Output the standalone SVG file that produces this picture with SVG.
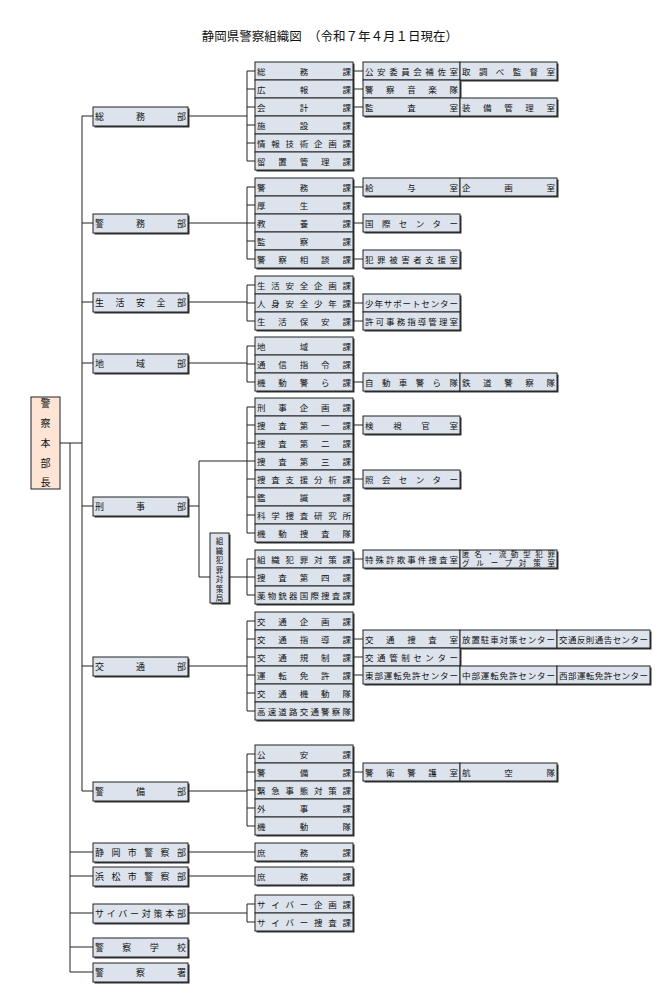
<svg xmlns="http://www.w3.org/2000/svg" width="664" height="1000" viewBox="0 0 664 1000">
<style>
.s{fill:#333}
.b{fill:#dde3ec;stroke:#222;stroke-width:1}
.t{font-family:"Noto Sans CJK JP","Liberation Sans",sans-serif;font-size:8.5px;fill:#111}
.d{font-family:"Noto Sans CJK JP","Liberation Sans",sans-serif;font-size:9px;fill:#111}
.v{font-family:"Noto Sans CJK JP","Liberation Sans",sans-serif;font-size:7.5px;fill:#111}
.c{fill:none;stroke:#222;stroke-width:1}
</style>
<rect width="664" height="1000" fill="#fff"/>
<text x="330" y="41" text-anchor="middle" font-family="Noto Sans CJK JP,sans-serif" font-size="12.5" fill="#111">静岡県警察組織図　（令和７年４月１日現在）</text>

<g id="connectors">
<path class="c" d="M60 443H82M82 116V791M70 443V972"/>
<path class="c" d="M82 116H93M82 223H93M82 302H93M82 363H93M82 506H93M82 666H93M82 791H93M70 852H93M70 876H93M70 913H93M70 947H93M70 972H93"/>
<path class="c" d="M188 116H247M247 71V161M247 71H255M247 89H255M247 107H255M247 125H255M247 143H255M247 161H255M353 71H363M353 89H363M353 107H363"/>
<path class="c" d="M188 223H247M247 187V259M247 187H255M247 205H255M247 223H255M247 241H255M247 259H255M353 187H363M353 223H363M353 259H363"/>
<path class="c" d="M188 302H247M247 285V321M247 285H255M247 303H255M247 321H255M353 303H363M353 321H363"/>
<path class="c" d="M188 363H247M247 346V382M247 346H255M247 364H255M247 382H255M353 382H363"/>
<path class="c" d="M188 506H199M199 461V577M199 461H247M247 407V533M247 407H255M247 425H255M247 443H255M247 461H255M247 479H255M247 497H255M247 515H255M247 533H255M353 425H363M353 479H363M199 577H210M229 577H247M247 559V595M247 559H255M247 577H255M247 595H255M353 559H363"/>
<path class="c" d="M188 666H247M247 621V711M247 621H255M247 639H255M247 657H255M247 675H255M247 693H255M247 711H255M353 639H363M353 657H363M353 675H363"/>
<path class="c" d="M188 791H247M247 754V826M247 754H255M247 772H255M247 790H255M247 808H255M247 826H255M353 772H363"/>
<path class="c" d="M188 852H255M188 876H255M188 913H247M247 904V922M247 904H255M247 922H255"/>
</g>

<g id="honbucho">
<rect x="31" y="397" width="29" height="92" fill="#fde4d4" stroke="#222"/>
<g font-family="Noto Sans CJK JP,sans-serif" font-size="10" text-anchor="middle" fill="#111">
<text x="45.5" y="407">警</text><text x="45.5" y="427">察</text><text x="45.5" y="447">本</text><text x="45.5" y="467">部</text><text x="45.5" y="486">長</text>
</g>
</g>

<g id="kyoku">
<rect x="211.5" y="534.5" width="19" height="70" class="s"/>
<rect x="210" y="533" width="19" height="70" class="b"/>
<g class="v" text-anchor="middle">
<text x="219.5" y="544">組</text><text x="219.5" y="553.5">織</text><text x="219.5" y="563">犯</text><text x="219.5" y="572.5">罪</text><text x="219.5" y="582">対</text><text x="219.5" y="591.5">策</text><text x="219.5" y="601">局</text>
</g>
</g>

<g id="depts">
<g id="d1"><rect x="94.5" y="108.5" width="95" height="19" class="s"/><rect x="93" y="107" width="95" height="19" class="b"/><text class="d" x="95" y="120" textLength="91" lengthAdjust="spacing">総務部</text></g>
<g id="d2"><rect x="94.5" y="215.5" width="95" height="19" class="s"/><rect x="93" y="214" width="95" height="19" class="b"/><text class="d" x="95" y="227" textLength="91" lengthAdjust="spacing">警務部</text></g>
<g id="d3"><rect x="94.5" y="294.5" width="95" height="19" class="s"/><rect x="93" y="293" width="95" height="19" class="b"/><text class="d" x="95" y="306" textLength="91" lengthAdjust="spacing">生活安全部</text></g>
<g id="d4"><rect x="94.5" y="355.5" width="95" height="19" class="s"/><rect x="93" y="354" width="95" height="19" class="b"/><text class="d" x="95" y="367" textLength="91" lengthAdjust="spacing">地域部</text></g>
<g id="d5"><rect x="94.5" y="498.5" width="95" height="19" class="s"/><rect x="93" y="497" width="95" height="19" class="b"/><text class="d" x="95" y="510" textLength="91" lengthAdjust="spacing">刑事部</text></g>
<g id="d6"><rect x="94.5" y="658.5" width="95" height="19" class="s"/><rect x="93" y="657" width="95" height="19" class="b"/><text class="d" x="95" y="670" textLength="91" lengthAdjust="spacing">交通部</text></g>
<g id="d7"><rect x="94.5" y="783.5" width="95" height="19" class="s"/><rect x="93" y="782" width="95" height="19" class="b"/><text class="d" x="95" y="795" textLength="91" lengthAdjust="spacing">警備部</text></g>
<g id="d8"><rect x="94.5" y="844.5" width="95" height="19" class="s"/><rect x="93" y="843" width="95" height="19" class="b"/><text class="d" x="95" y="856" textLength="91" lengthAdjust="spacing">静岡市警察部</text></g>
<g id="d9"><rect x="94.5" y="868.5" width="95" height="19" class="s"/><rect x="93" y="867" width="95" height="19" class="b"/><text class="d" x="95" y="880" textLength="91" lengthAdjust="spacing">浜松市警察部</text></g>
<g id="d10"><rect x="94.5" y="905.5" width="95" height="19" class="s"/><rect x="93" y="904" width="95" height="19" class="b"/><text class="d" x="95" y="917" textLength="91" lengthAdjust="spacing">サイバー対策本部</text></g>
<g id="d11"><rect x="94.5" y="939.5" width="95" height="19" class="s"/><rect x="93" y="938" width="95" height="19" class="b"/><text class="d" x="95" y="951" textLength="91" lengthAdjust="spacing">警察学校</text></g>
<g id="d12"><rect x="94.5" y="964.5" width="95" height="19" class="s"/><rect x="93" y="963" width="95" height="19" class="b"/><text class="d" x="95" y="976" textLength="91" lengthAdjust="spacing">警察署</text></g>
</g>

<g id="shadows2">
<rect x="256.5" y="63.5" width="98" height="108" class="s"/>
<rect x="256.5" y="179.5" width="98" height="90" class="s"/>
<rect x="256.5" y="277.5" width="98" height="54" class="s"/>
<rect x="256.5" y="338.5" width="98" height="54" class="s"/>
<rect x="256.5" y="399.5" width="98" height="144" class="s"/>
<rect x="256.5" y="551.5" width="98" height="54" class="s"/>
<rect x="256.5" y="613.5" width="98" height="108" class="s"/>
<rect x="256.5" y="746.5" width="98" height="90" class="s"/>
<rect x="256.5" y="844.5" width="98" height="18" class="s"/>
<rect x="256.5" y="868.5" width="98" height="18" class="s"/>
<rect x="256.5" y="896.5" width="98" height="36" class="s"/>
</g>

<g id="ka">
<g id="k1"><rect x="255" y="62" width="98" height="18" class="b"/><text class="t" x="257" y="74.5" textLength="94" lengthAdjust="spacing">総務課</text></g>
<g id="k2"><rect x="255" y="80" width="98" height="18" class="b"/><text class="t" x="257" y="92.5" textLength="94" lengthAdjust="spacing">広報課</text></g>
<g id="k3"><rect x="255" y="98" width="98" height="18" class="b"/><text class="t" x="257" y="110.5" textLength="94" lengthAdjust="spacing">会計課</text></g>
<g id="k4"><rect x="255" y="116" width="98" height="18" class="b"/><text class="t" x="257" y="128.5" textLength="94" lengthAdjust="spacing">施設課</text></g>
<g id="k5"><rect x="255" y="134" width="98" height="18" class="b"/><text class="t" x="257" y="146.5" textLength="94" lengthAdjust="spacing">情報技術企画課</text></g>
<g id="k6"><rect x="255" y="152" width="98" height="18" class="b"/><text class="t" x="257" y="164.5" textLength="94" lengthAdjust="spacing">留置管理課</text></g>
<g id="k7"><rect x="255" y="178" width="98" height="18" class="b"/><text class="t" x="257" y="190.5" textLength="94" lengthAdjust="spacing">警務課</text></g>
<g id="k8"><rect x="255" y="196" width="98" height="18" class="b"/><text class="t" x="257" y="208.5" textLength="94" lengthAdjust="spacing">厚生課</text></g>
<g id="k9"><rect x="255" y="214" width="98" height="18" class="b"/><text class="t" x="257" y="226.5" textLength="94" lengthAdjust="spacing">教養課</text></g>
<g id="k10"><rect x="255" y="232" width="98" height="18" class="b"/><text class="t" x="257" y="244.5" textLength="94" lengthAdjust="spacing">監察課</text></g>
<g id="k11"><rect x="255" y="250" width="98" height="18" class="b"/><text class="t" x="257" y="262.5" textLength="94" lengthAdjust="spacing">警察相談課</text></g>
<g id="k12"><rect x="255" y="276" width="98" height="18" class="b"/><text class="t" x="257" y="288.5" textLength="94" lengthAdjust="spacing">生活安全企画課</text></g>
<g id="k13"><rect x="255" y="294" width="98" height="18" class="b"/><text class="t" x="257" y="306.5" textLength="94" lengthAdjust="spacing">人身安全少年課</text></g>
<g id="k14"><rect x="255" y="312" width="98" height="18" class="b"/><text class="t" x="257" y="324.5" textLength="94" lengthAdjust="spacing">生活保安課</text></g>
<g id="k15"><rect x="255" y="337" width="98" height="18" class="b"/><text class="t" x="257" y="349.5" textLength="94" lengthAdjust="spacing">地域課</text></g>
<g id="k16"><rect x="255" y="355" width="98" height="18" class="b"/><text class="t" x="257" y="367.5" textLength="94" lengthAdjust="spacing">通信指令課</text></g>
<g id="k17"><rect x="255" y="373" width="98" height="18" class="b"/><text class="t" x="257" y="385.5" textLength="94" lengthAdjust="spacing">機動警ら課</text></g>
<g id="k18"><rect x="255" y="398" width="98" height="18" class="b"/><text class="t" x="257" y="410.5" textLength="94" lengthAdjust="spacing">刑事企画課</text></g>
<g id="k19"><rect x="255" y="416" width="98" height="18" class="b"/><text class="t" x="257" y="428.5" textLength="94" lengthAdjust="spacing">捜査第一課</text></g>
<g id="k20"><rect x="255" y="434" width="98" height="18" class="b"/><text class="t" x="257" y="446.5" textLength="94" lengthAdjust="spacing">捜査第二課</text></g>
<g id="k21"><rect x="255" y="452" width="98" height="18" class="b"/><text class="t" x="257" y="464.5" textLength="94" lengthAdjust="spacing">捜査第三課</text></g>
<g id="k22"><rect x="255" y="470" width="98" height="18" class="b"/><text class="t" x="257" y="482.5" textLength="94" lengthAdjust="spacing">捜査支援分析課</text></g>
<g id="k23"><rect x="255" y="488" width="98" height="18" class="b"/><text class="t" x="257" y="500.5" textLength="94" lengthAdjust="spacing">鑑識課</text></g>
<g id="k24"><rect x="255" y="506" width="98" height="18" class="b"/><text class="t" x="257" y="518.5" textLength="94" lengthAdjust="spacing">科学捜査研究所</text></g>
<g id="k25"><rect x="255" y="524" width="98" height="18" class="b"/><text class="t" x="257" y="536.5" textLength="94" lengthAdjust="spacing">機動捜査隊</text></g>
<g id="k26"><rect x="255" y="550" width="98" height="18" class="b"/><text class="t" x="257" y="562.5" textLength="94" lengthAdjust="spacing">組織犯罪対策課</text></g>
<g id="k27"><rect x="255" y="568" width="98" height="18" class="b"/><text class="t" x="257" y="580.5" textLength="94" lengthAdjust="spacing">捜査第四課</text></g>
<g id="k28"><rect x="255" y="586" width="98" height="18" class="b"/><text class="t" x="257" y="598.5" textLength="94" lengthAdjust="spacing">薬物銃器国際捜査課</text></g>
<g id="k29"><rect x="255" y="612" width="98" height="18" class="b"/><text class="t" x="257" y="624.5" textLength="94" lengthAdjust="spacing">交通企画課</text></g>
<g id="k30"><rect x="255" y="630" width="98" height="18" class="b"/><text class="t" x="257" y="642.5" textLength="94" lengthAdjust="spacing">交通指導課</text></g>
<g id="k31"><rect x="255" y="648" width="98" height="18" class="b"/><text class="t" x="257" y="660.5" textLength="94" lengthAdjust="spacing">交通規制課</text></g>
<g id="k32"><rect x="255" y="666" width="98" height="18" class="b"/><text class="t" x="257" y="678.5" textLength="94" lengthAdjust="spacing">運転免許課</text></g>
<g id="k33"><rect x="255" y="684" width="98" height="18" class="b"/><text class="t" x="257" y="696.5" textLength="94" lengthAdjust="spacing">交通機動隊</text></g>
<g id="k34"><rect x="255" y="702" width="98" height="18" class="b"/><text class="t" x="257" y="714.5" textLength="94" lengthAdjust="spacing">高速道路交通警察隊</text></g>
<g id="k35"><rect x="255" y="745" width="98" height="18" class="b"/><text class="t" x="257" y="757.5" textLength="94" lengthAdjust="spacing">公安課</text></g>
<g id="k36"><rect x="255" y="763" width="98" height="18" class="b"/><text class="t" x="257" y="775.5" textLength="94" lengthAdjust="spacing">警備課</text></g>
<g id="k37"><rect x="255" y="781" width="98" height="18" class="b"/><text class="t" x="257" y="793.5" textLength="94" lengthAdjust="spacing">緊急事態対策課</text></g>
<g id="k38"><rect x="255" y="799" width="98" height="18" class="b"/><text class="t" x="257" y="811.5" textLength="94" lengthAdjust="spacing">外事課</text></g>
<g id="k39"><rect x="255" y="817" width="98" height="18" class="b"/><text class="t" x="257" y="829.5" textLength="94" lengthAdjust="spacing">機動隊</text></g>
<g id="k40"><rect x="255" y="843" width="98" height="18" class="b"/><text class="t" x="257" y="855.5" textLength="94" lengthAdjust="spacing">庶務課</text></g>
<g id="k41"><rect x="255" y="867" width="98" height="18" class="b"/><text class="t" x="257" y="879.5" textLength="94" lengthAdjust="spacing">庶務課</text></g>
<g id="k42"><rect x="255" y="895" width="98" height="18" class="b"/><text class="t" x="257" y="907.5" textLength="94" lengthAdjust="spacing">サイバー企画課</text></g>
<g id="k43"><rect x="255" y="913" width="98" height="18" class="b"/><text class="t" x="257" y="925.5" textLength="94" lengthAdjust="spacing">サイバー捜査課</text></g>
</g>

<g id="shadows3">
<rect x="364.5" y="63.5" width="194" height="18" class="s"/>
<rect x="364.5" y="81.5" width="97" height="18" class="s"/>
<rect x="364.5" y="99.5" width="194" height="18" class="s"/>
<rect x="364.5" y="179.5" width="194" height="18" class="s"/>
<rect x="364.5" y="215.5" width="97" height="18" class="s"/>
<rect x="364.5" y="251.5" width="97" height="18" class="s"/>
<rect x="364.5" y="295.5" width="97" height="36" class="s"/>
<rect x="364.5" y="374.5" width="194" height="18" class="s"/>
<rect x="364.5" y="417.5" width="97" height="18" class="s"/>
<rect x="364.5" y="471.5" width="97" height="18" class="s"/>
<rect x="364.5" y="551.5" width="194" height="18" class="s"/>
<rect x="364.5" y="631.5" width="287" height="18" class="s"/>
<rect x="364.5" y="649.5" width="97" height="18" class="s"/>
<rect x="364.5" y="667.5" width="287" height="18" class="s"/>
<rect x="364.5" y="764.5" width="194" height="18" class="s"/>
</g>

<g id="shitsu">
<g id="s1"><rect x="363" y="62" width="97" height="18" class="b"/><text class="t" x="365" y="74.5" textLength="93" lengthAdjust="spacing">公安委員会補佐室</text></g>
<g id="s2"><rect x="460" y="62" width="97" height="18" class="b"/><text class="t" x="462" y="74.5" textLength="93" lengthAdjust="spacing">取調べ監督室</text></g>
<g id="s3"><rect x="363" y="80" width="97" height="18" class="b"/><text class="t" x="365" y="92.5" textLength="93" lengthAdjust="spacing">警察音楽隊</text></g>
<g id="s4"><rect x="363" y="98" width="97" height="18" class="b"/><text class="t" x="365" y="110.5" textLength="93" lengthAdjust="spacing">監査室</text></g>
<g id="s5"><rect x="460" y="98" width="97" height="18" class="b"/><text class="t" x="462" y="110.5" textLength="93" lengthAdjust="spacing">装備管理室</text></g>
<g id="s6"><rect x="363" y="178" width="97" height="18" class="b"/><text class="t" x="365" y="190.5" textLength="93" lengthAdjust="spacing">給与室</text></g>
<g id="s7"><rect x="460" y="178" width="97" height="18" class="b"/><text class="t" x="462" y="190.5" textLength="93" lengthAdjust="spacing">企画室</text></g>
<g id="s8"><rect x="363" y="214" width="97" height="18" class="b"/><text class="t" x="365" y="226.5" textLength="93" lengthAdjust="spacing">国際センター</text></g>
<g id="s9"><rect x="363" y="250" width="97" height="18" class="b"/><text class="t" x="365" y="262.5" textLength="93" lengthAdjust="spacing">犯罪被害者支援室</text></g>
<g id="s10"><rect x="363" y="294" width="97" height="18" class="b"/><text class="t" x="365" y="306.5" textLength="93" lengthAdjust="spacing">少年サポートセンター</text></g>
<g id="s11"><rect x="363" y="312" width="97" height="18" class="b"/><text class="t" x="365" y="324.5" textLength="93" lengthAdjust="spacing">許可事務指導管理室</text></g>
<g id="s12"><rect x="363" y="373" width="97" height="18" class="b"/><text class="t" x="365" y="385.5" textLength="93" lengthAdjust="spacing">自動車警ら隊</text></g>
<g id="s13"><rect x="460" y="373" width="97" height="18" class="b"/><text class="t" x="462" y="385.5" textLength="93" lengthAdjust="spacing">鉄道警察隊</text></g>
<g id="s14"><rect x="363" y="416" width="97" height="18" class="b"/><text class="t" x="365" y="428.5" textLength="93" lengthAdjust="spacing">検視官室</text></g>
<g id="s15"><rect x="363" y="470" width="97" height="18" class="b"/><text class="t" x="365" y="482.5" textLength="93" lengthAdjust="spacing">照会センター</text></g>
<g id="s16"><rect x="363" y="550" width="97" height="18" class="b"/><text class="t" x="365" y="562.5" textLength="93" lengthAdjust="spacing">特殊詐欺事件捜査室</text></g>
<g id="s17"><rect x="460" y="550" width="97" height="18" class="b"/><text class="v" font-size="7" x="462" y="557" textLength="93" lengthAdjust="spacing">匿名・流動型犯罪</text><text class="v" font-size="7" x="462" y="566" textLength="93" lengthAdjust="spacing">グループ対策室</text></g>
<g id="s18"><rect x="363" y="630" width="97" height="18" class="b"/><text class="t" x="365" y="642.5" textLength="93" lengthAdjust="spacing">交通捜査室</text></g>
<g id="s19"><rect x="460" y="630" width="97" height="18" class="b"/><text class="t" x="462" y="642.5" textLength="93" lengthAdjust="spacing">放置駐車対策センター</text></g>
<g id="s20"><rect x="557" y="630" width="93" height="18" class="b"/><text class="t" x="559" y="642.5" textLength="89" lengthAdjust="spacing">交通反則通告センター</text></g>
<g id="s21"><rect x="363" y="648" width="97" height="18" class="b"/><text class="t" x="365" y="660.5" textLength="93" lengthAdjust="spacing">交通管制センター</text></g>
<g id="s22"><rect x="363" y="666" width="97" height="18" class="b"/><text class="t" x="365" y="678.5" textLength="93" lengthAdjust="spacing">東部運転免許センター</text></g>
<g id="s23"><rect x="460" y="666" width="97" height="18" class="b"/><text class="t" x="462" y="678.5" textLength="93" lengthAdjust="spacing">中部運転免許センター</text></g>
<g id="s24"><rect x="557" y="666" width="93" height="18" class="b"/><text class="t" x="559" y="678.5" textLength="89" lengthAdjust="spacing">西部運転免許センター</text></g>
<g id="s25"><rect x="363" y="763" width="97" height="18" class="b"/><text class="t" x="365" y="775.5" textLength="93" lengthAdjust="spacing">警衛警護室</text></g>
<g id="s26"><rect x="460" y="763" width="97" height="18" class="b"/><text class="t" x="462" y="775.5" textLength="93" lengthAdjust="spacing">航空隊</text></g>
</g>
</svg>
